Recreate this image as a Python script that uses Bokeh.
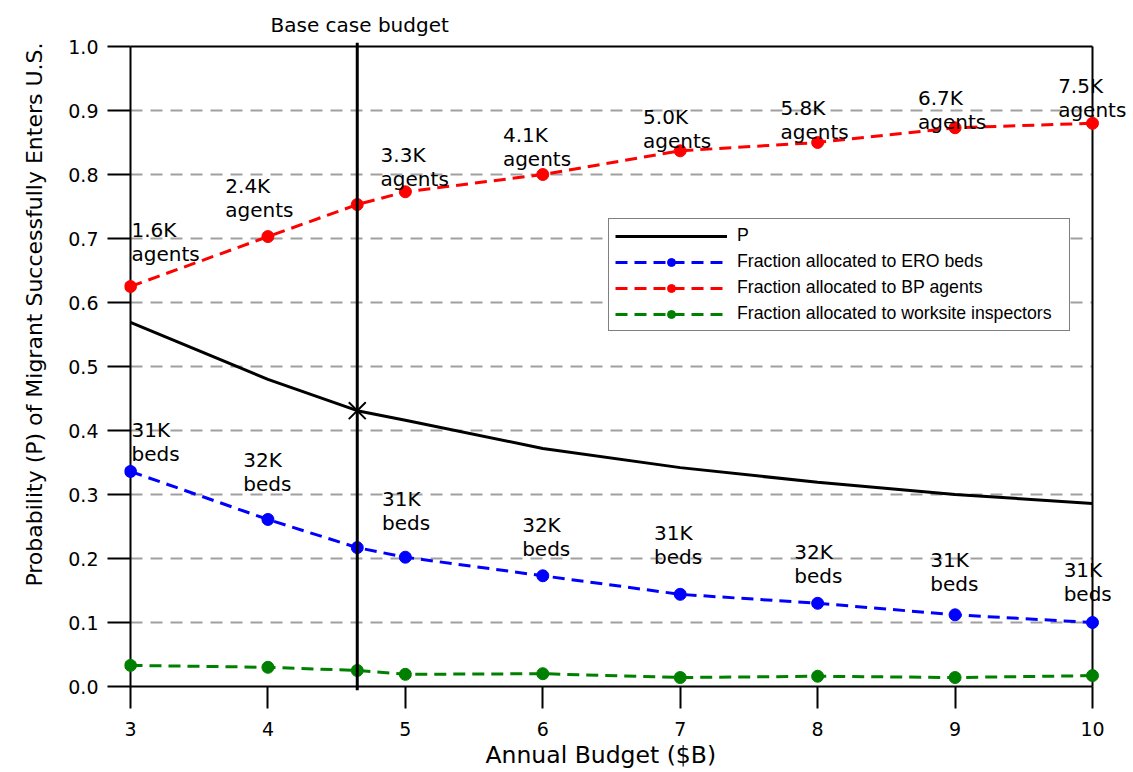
import numpy as np
from bokeh.plotting import figure
from bokeh.models import (Range1d, FixedTicker, PrintfTickFormatter, Span, Title,
                          LabelSet, ColumnDataSource, Legend, LegendItem)
from bokeh.embed import file_html
from bokeh.resources import INLINE
from bokeh.core.properties import value

# ---------------- data ----------------
budget = [3, 4, 4.65, 5, 6, 7, 8, 9, 10]
p_success = [0.569, 0.480, 0.431, 0.416, 0.372, 0.342, 0.319, 0.300, 0.286]
frac_ero_beds = [0.336, 0.261, 0.217, 0.202, 0.173, 0.144, 0.130, 0.112, 0.100]
frac_bp_agents = [0.625, 0.703, 0.753, 0.773, 0.800, 0.837, 0.850, 0.873, 0.880]
frac_worksite = [0.033, 0.030, 0.025, 0.019, 0.020, 0.014, 0.016, 0.014, 0.017]
base_case_budget = 4.65

agents_text = ["1.6K", "2.4K", "3.3K", "4.1K", "5.0K", "5.8K", "6.7K", "7.5K"]
beds_text = ["31K", "32K", "31K", "32K", "31K", "32K", "31K", "31K"]

# annotation anchor positions (data units; baseline of the lower text line)
agents_label_x = [3.007, 3.69, 4.82, 5.71, 6.73, 7.73, 8.73, 9.75]
agents_label_y = [0.665, 0.733, 0.782, 0.813, 0.841, 0.855, 0.871, 0.890]
beds_label_x = [3.007, 3.82, 4.83, 5.85, 6.81, 7.83, 8.82, 9.79]
beds_label_y = [0.352, 0.305, 0.244, 0.204, 0.191, 0.162, 0.149, 0.1335]

x_ticks = [3, 4, 5, 6, 7, 8, 9, 10]
y_ticks = [0.0, 0.1, 0.2, 0.3, 0.4, 0.5, 0.6, 0.7, 0.8, 0.9, 1.0]

x_title = "Annual Budget ($B)"
y_title = "Probability (P) of Migrant Successfully Enters U.S."
base_title = "Base case budget"

# ---------------- figure ----------------
FONT = "DejaVu Sans"
x_lo, x_hi = x_ticks[0], x_ticks[-1]
y_lo, y_hi = y_ticks[0], y_ticks[-1]
px_per_x = 137.43          # frame pixels per budget unit
px_per_y = 640.0           # frame pixels per probability unit
xpad_left, xpad_right = 6 / px_per_x, 41 / px_per_x
ypad = 4 / px_per_y

p = figure(width=1133, height=772, output_backend="svg", toolbar_location=None,
           x_range=Range1d(x_lo - xpad_left, x_hi + xpad_right),
           y_range=Range1d(y_lo - ypad, y_hi + ypad),
           min_border_left=124, min_border_right=0, min_border_top=42,
           min_border_bottom=82)
p.outline_line_color = None
p.background_fill_color = "white"
p.border_fill_color = "white"

# title used for the base-case caption
p.title.text = base_title
p.title.align = "left"
p.title.offset = 146
p.title.standoff = 12
p.title.text_font = FONT
p.title.text_font_size = "20px"
p.title.text_font_style = "normal"
p.title.text_color = "black"

# grid (drawn between the data limits only)
p.xgrid.visible = False
p.ygrid.visible = False
grid_y = y_ticks[1:-1]
p.segment(x0=[x_lo] * len(grid_y), x1=[x_hi] * len(grid_y), y0=grid_y, y1=grid_y,
          line_color="#a0a0a0", line_width=2, line_dash="12 8")

# axes
for ax in (p.xaxis[0], p.yaxis[0]):
    ax.major_label_text_font = FONT
    ax.major_label_text_font_size = "19px"
    ax.major_label_text_color = "black"
    ax.major_tick_line_color = "black"
    ax.major_tick_line_width = 2
    ax.minor_tick_line_color = None
    ax.axis_line_color = None

p.xaxis.ticker = FixedTicker(ticks=x_ticks)
p.xaxis.formatter = PrintfTickFormatter(format="%d")
p.xaxis.major_tick_out = 18
p.xaxis.major_tick_in = 4
p.xaxis.major_label_standoff = 13

p.yaxis.ticker = FixedTicker(ticks=y_ticks)
p.yaxis.formatter = PrintfTickFormatter(format="%.1f")
p.yaxis.major_tick_out = 17
p.yaxis.major_tick_in = 6
p.yaxis.major_label_standoff = 9

# axis titles as side titles (allow alignment like the reference)
p.add_layout(Title(text=y_title, align="right", offset=0, standoff=37,
                   text_font=FONT, text_font_size="22px", text_font_style="normal",
                   text_color="black"), "left")
p.add_layout(Title(text=x_title, align="left", offset=361, standoff=1,
                   text_font=FONT, text_font_size="23.5px", text_font_style="normal",
                   text_color="black"), "below")

# frame box at the data limits
p.segment(x0=[x_lo, x_hi, x_lo, x_lo], y0=[y_lo, y_lo, y_hi, y_lo],
          x1=[x_lo, x_hi, x_hi, x_hi], y1=[y_hi, y_hi, y_hi, y_lo],
          line_color="black", line_width=2)

# series
dash = "12 7"
r_p = p.line(budget, p_success, line_color="black", line_width=3)

r_ero_l = p.line(budget, frac_ero_beds, line_color="#0000ff", line_width=3, line_dash=dash)
r_ero_m = p.scatter(budget, frac_ero_beds, marker="circle", size=12,
                    fill_color="#0000ff", line_color="#0000ff")
r_bp_l = p.line(budget, frac_bp_agents, line_color="#ff0000", line_width=3, line_dash=dash)
r_bp_m = p.scatter(budget, frac_bp_agents, marker="circle", size=12,
                   fill_color="#ff0000", line_color="#ff0000")
r_ws_l = p.line(budget, frac_worksite, line_color="#008000", line_width=3, line_dash=dash)
r_ws_m = p.scatter(budget, frac_worksite, marker="circle", size=12,
                   fill_color="#008000", line_color="#008000")

# base case
p.add_layout(Span(location=base_case_budget, dimension="height",
                  line_color="black", line_width=3))
base_idx = budget.index(base_case_budget)
p.scatter([base_case_budget], [p_success[base_idx]], marker="x", size=24,
          line_color="black", line_width=2)

# annotations
line_gap = 24 / px_per_y
agents_src = ColumnDataSource(dict(
    x=agents_label_x, y=agents_label_y,
    ytop=[v + line_gap for v in agents_label_y],
    top=agents_text, bottom=["agents"] * len(agents_text)))
beds_src = ColumnDataSource(dict(
    x=beds_label_x, y=beds_label_y,
    ytop=[v + line_gap for v in beds_label_y],
    top=beds_text, bottom=["beds"] * len(beds_text)))
for src in (agents_src, beds_src):
    for ycol, tcol in (("ytop", "top"), ("y", "bottom")):
        p.add_layout(LabelSet(x="x", y=ycol, text=tcol, source=src,
                              text_align="left", text_baseline="alphabetic",
                              text_font=value(FONT), text_font_size=value("20px"),
                              text_color="black"))

# legend
legend = Legend(items=[
    LegendItem(label="P", renderers=[r_p]),
    LegendItem(label="Fraction allocated to ERO beds", renderers=[r_ero_l, r_ero_m]),
    LegendItem(label="Fraction allocated to BP agents", renderers=[r_bp_l, r_bp_m]),
    LegendItem(label="Fraction allocated to worksite inspectors", renderers=[r_ws_l, r_ws_m]),
], location=(484, 359))
legend.label_text_font = "Liberation Sans"
legend.label_text_font_size = "17.7px"
legend.label_text_color = "black"
legend.glyph_width = 112
legend.glyph_height = 20
legend.spacing = 5
legend.padding = 6
legend.label_standoff = 10
legend.label_width = 326
legend.label_height = 20
legend.border_line_color = "black"
legend.border_line_width = 1
legend.background_fill_color = "white"
legend.background_fill_alpha = 1.0
p.add_layout(legend)

open("out.html", "w").write(file_html(p, INLINE))
